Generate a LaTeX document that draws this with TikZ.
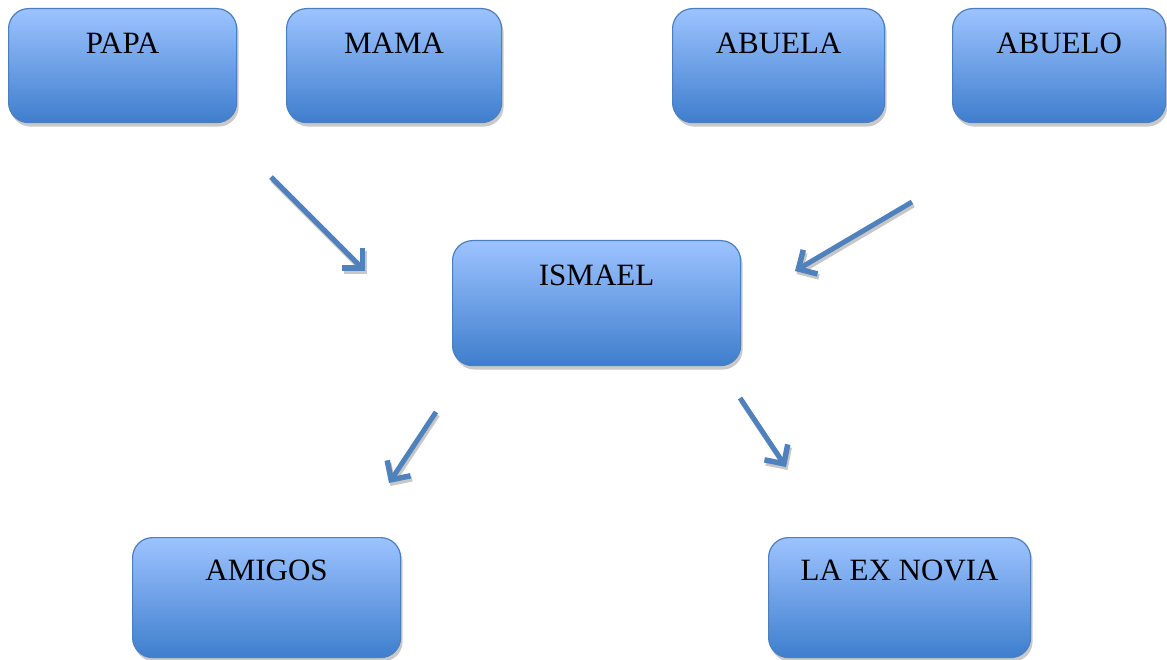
\documentclass[tikz,border=0pt]{standalone}
\usepackage{fontspec}
\setmainfont{Liberation Serif}
\usetikzlibrary{arrows.meta,shadows}
\definecolor{boxtop}{HTML}{9DC3FF}
\definecolor{boxmid}{HTML}{7EA9EE}
\definecolor{boxbot}{HTML}{3E7ECD}
\definecolor{boxedge}{HTML}{4C7FBD}
\definecolor{arrowblue}{HTML}{4F81BD}
\tikzset{
  famBox/.style={draw=boxedge, line width=1.2pt, rounded corners=20pt,
    top color=boxtop, middle color=boxmid, bottom color=boxbot, inner xsep=0pt, inner ysep=0pt,
    font=\fontsize{31}{36}\selectfont, anchor=north west,
    drop shadow={shadow xshift=2pt, shadow yshift=-4pt, fill=black!30, opacity=0.7}},
  relArrow/.style={draw=arrowblue, line width=5pt,
    -{Straight Barb[length=14pt, width=28pt, line width=5.5pt]}},
  relShadow/.style={draw=black!22, line width=5pt,
    -{Straight Barb[length=14pt, width=28pt, line width=5.5pt]}}
}
\begin{document}
\begin{tikzpicture}[x=1pt,y=-1pt]
\useasboundingbox (0,0) rectangle (1167,660);
\node[famBox, minimum width=228pt, text height=45pt, text depth=69pt] (papa) at (8,8) {PAPA};
\node[famBox, minimum width=215pt, text height=45pt, text depth=69pt] (mama) at (286,8) {MAMA};
\node[famBox, minimum width=212pt, text height=45pt, text depth=69pt] (abuela) at (672,8) {ABUELA};
\node[famBox, minimum width=213pt, text height=45pt, text depth=69pt] (abuelo) at (952,8) {ABUELO};
\node[famBox, minimum width=288pt, text height=45pt, text depth=80pt] (ismael) at (452,240) {ISMAEL};
\node[famBox, minimum width=268pt, text height=43pt, text depth=77pt] (amigos) at (132,537) {AMIGOS};
\node[famBox, minimum width=262pt, text height=43pt, text depth=77pt] (exnovia) at (768,537) {LA EX NOVIA};
\coordinate (a1s) at (271,177); \coordinate (a1e) at (365,271);
\coordinate (a2s) at (912,202); \coordinate (a2e) at (795,271);
\coordinate (a3s) at (436,412); \coordinate (a3e) at (389,483);
\coordinate (a4s) at (740,398); \coordinate (a4e) at (786,467);
\foreach \s/\e in {a1s/a1e,a2s/a2e,a3s/a3e,a4s/a4e}{
  \draw[relShadow] ([xshift=1.5pt,yshift=-3pt]\s) -- ([xshift=1.5pt,yshift=-3pt]\e);
  \draw[relArrow] (\s) -- (\e);
}
\end{tikzpicture}
\end{document}
